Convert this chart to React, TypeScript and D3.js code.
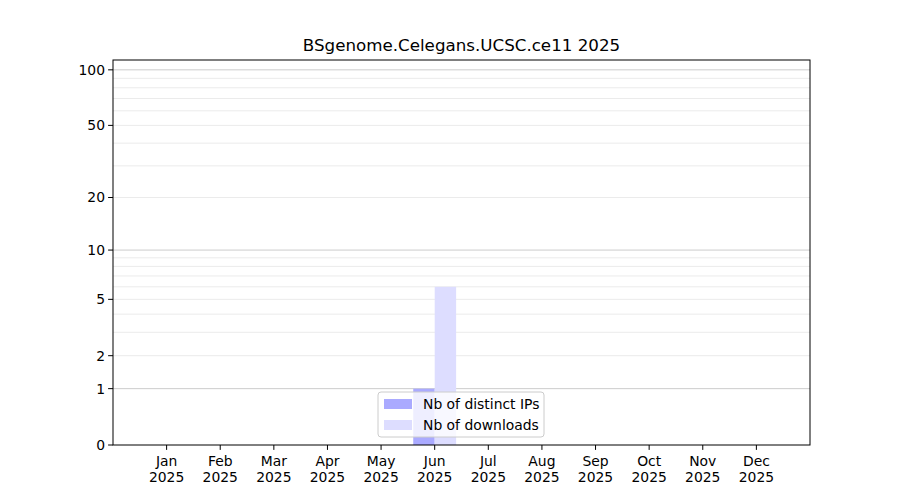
import React from 'react';
import * as d3 from 'd3';

const months = ['Jan', 'Feb', 'Mar', 'Apr', 'May', 'Jun', 'Jul', 'Aug', 'Sep', 'Oct', 'Nov', 'Dec'];
const year = '2025';
const distinctIPs = [0, 0, 0, 0, 0, 1, 0, 0, 0, 0, 0, 0];
const downloads = [0, 0, 0, 0, 0, 6, 0, 0, 0, 0, 0, 0];
const yTicks = [0, 1, 2, 5, 10, 20, 50, 100];
const majorGrid = [1, 10, 100];
const minorGrid = [2, 3, 4, 5, 6, 7, 8, 9, 20, 30, 40, 50, 60, 70, 80, 90];

const App = () => {
  const width = 900;
  const height = 500;
  const margin = { left: 113, right: 90, top: 60, bottom: 55 };
  const font = 'DejaVu Sans, sans-serif';
  const fs = 13.9;

  const x = d3.scaleLinear().domain([0, 13]).range([margin.left, width - margin.right]);
  const y = d3.scaleSymlog().constant(1).domain([0, 113]).range([height - margin.bottom, margin.top]);
  const barW = x(0.4) - x(0);
  const y0 = y(0);

  return (
    <svg width={width} height={height} style={{ position: 'absolute', left: 0, top: 0, background: '#fff' }}>
      <text x={(x(0) + x(13)) / 2} y={51} textAnchor="middle" fontFamily={font} fontSize={16.7}>
        BSgenome.Celegans.UCSC.ce11 2025
      </text>

      {/* grid */}
      {minorGrid.map((v) => (
        <line key={'m' + v} x1={x(0)} x2={x(13)} y1={y(v)} y2={y(v)} stroke="#ebebeb" strokeWidth={1} />
      ))}
      {majorGrid.map((v) => (
        <line key={'M' + v} x1={x(0)} x2={x(13)} y1={y(v)} y2={y(v)} stroke="#cccccc" strokeWidth={1} />
      ))}

      {/* bars */}
      {distinctIPs.map((v, i) => (
        <rect key={'ip' + i} x={x(i + 1) - barW} y={y(v)} width={barW} height={y0 - y(v)} fill="#aaaaff" />
      ))}
      {downloads.map((v, i) => (
        <rect key={'dl' + i} x={x(i + 1)} y={y(v)} width={barW} height={y0 - y(v)} fill="#ddddff" />
      ))}

      {/* frame */}
      <rect x={x(0)} y={y(113)} width={x(13) - x(0)} height={y0 - y(113)} fill="none" stroke="#000" strokeWidth={1} />

      {/* y axis */}
      {yTicks.map((v) => (
        <g key={'yt' + v}>
          <line x1={x(0) - 4.9} x2={x(0)} y1={y(v)} y2={y(v)} stroke="#000" />
          <text x={x(0) - 8} y={y(v)} dy="0.35em" textAnchor="end" fontFamily={font} fontSize={fs}>
            {v}
          </text>
        </g>
      ))}

      {/* x axis */}
      {months.map((m, i) => (
        <g key={'xt' + m}>
          <line x1={x(i + 1)} x2={x(i + 1)} y1={y0} y2={y0 + 4.9} stroke="#000" />
          <text x={x(i + 1)} y={466} textAnchor="middle" fontFamily={font} fontSize={fs}>
            {m}
          </text>
          <text x={x(i + 1)} y={482} textAnchor="middle" fontFamily={font} fontSize={fs}>
            {year}
          </text>
        </g>
      ))}

      {/* legend */}
      <g>
        <rect x={378} y={392} width={166} height={45} rx={3} fill="#fff" fillOpacity={0.8} stroke="#cccccc" />
        <rect x={384} y={399} width={28} height={10} fill="#aaaaff" />
        <text x={423} y={404} dy="0.35em" fontFamily={font} fontSize={fs}>Nb of distinct IPs</text>
        <rect x={384} y={420} width={28} height={10} fill="#ddddff" />
        <text x={423} y={425} dy="0.35em" fontFamily={font} fontSize={fs}>Nb of downloads</text>
      </g>
    </svg>
  );
};

export default App;
